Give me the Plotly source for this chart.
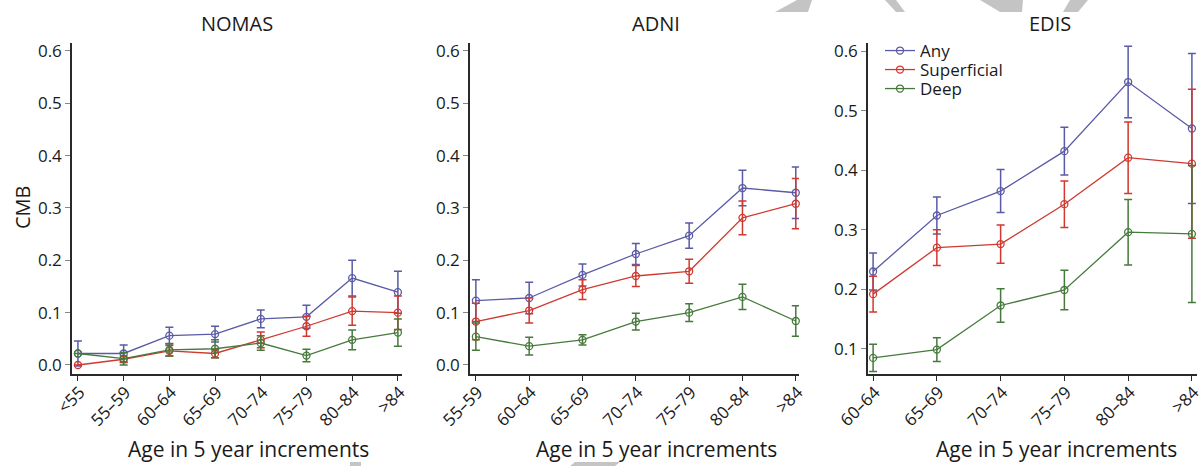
import plotly.graph_objects as go

W, H = 1203, 466

# ---------------- data ----------------
nomas_cats = ["<55", "55–59", "60–64", "65–69", "70–74", "75–79", "80–84", ">84"]
nomas_any = [0.022, 0.022, 0.056, 0.059, 0.088, 0.092, 0.166, 0.139]
nomas_any_err = [0.024, 0.016, 0.016, 0.015, 0.017, 0.022, 0.034, 0.040]
nomas_sup = [0.0, 0.011, 0.027, 0.022, 0.048, 0.074, 0.103, 0.100]
nomas_sup_err = [0.0, 0.006, 0.010, 0.008, 0.015, 0.019, 0.027, 0.032]
nomas_deep = [0.022, 0.012, 0.029, 0.031, 0.042, 0.018, 0.048, 0.062]
nomas_deep_err = [0.0, 0.012, 0.012, 0.017, 0.014, 0.012, 0.019, 0.026]

adni_cats = ["55–59", "60–64", "65–69", "70–74", "75–79", "80–84", ">84"]
adni_any = [0.123, 0.128, 0.172, 0.212, 0.247, 0.338, 0.329]
adni_any_err = [0.040, 0.030, 0.021, 0.020, 0.024, 0.034, 0.049]
adni_sup = [0.083, 0.104, 0.144, 0.170, 0.179, 0.281, 0.308]
adni_sup_err = [0.035, 0.024, 0.019, 0.020, 0.023, 0.032, 0.048]
adni_deep = [0.054, 0.036, 0.048, 0.083, 0.100, 0.130, 0.084]
adni_deep_err = [0.026, 0.017, 0.010, 0.016, 0.017, 0.024, 0.029]

edis_cats = ["60–64", "65–69", "70–74", "75–79", "80–84", ">84"]
edis_any = [0.230, 0.324, 0.365, 0.432, 0.548, 0.470]
edis_any_err = [0.031, 0.031, 0.036, 0.040, 0.060, 0.126]
edis_sup = [0.192, 0.270, 0.276, 0.343, 0.421, 0.411]
edis_sup_err = [0.030, 0.030, 0.032, 0.039, 0.060, 0.125]
edis_deep = [0.085, 0.099, 0.173, 0.199, 0.296, 0.293]
edis_deep_err = [0.023, 0.020, 0.028, 0.033, 0.055, 0.115]

series_names = ["Any", "Superficial", "Deep"]
colors = ["#5a5aa6", "#d0392f", "#467a3c"]

panels = [
    ("NOMAS", nomas_cats, [(nomas_any, nomas_any_err), (nomas_sup, nomas_sup_err), (nomas_deep, nomas_deep_err)]),
    ("ADNI", adni_cats, [(adni_any, adni_any_err), (adni_sup, adni_sup_err), (adni_deep, adni_deep_err)]),
    ("EDIS", edis_cats, [(edis_any, edis_any_err), (edis_sup, edis_sup_err), (edis_deep, edis_deep_err)]),
]

# ---------------- layout geometry (pixels) ----------------
x_dom_px = [(72, 402), (470, 799), (868, 1197)]
y_dom_px = (43, 374)
x_ranges = [[-0.13, 7.09], [-0.11, 6.06], [-0.08, 5.08]]
y_ranges = [[-0.0172, 0.615], [-0.0172, 0.615], [0.058, 0.6135]]
y_ticks = [[0, 0.1, 0.2, 0.3, 0.4, 0.5, 0.6], [0, 0.1, 0.2, 0.3, 0.4, 0.5, 0.6], [0.1, 0.2, 0.3, 0.4, 0.5, 0.6]]
title_cx = [237, 656, 1050]
xtitle_cx = [248, 656, 1056]
legend_rows_px = [51, 70, 89]

FONT = "Open Sans"
AX = "#2a2a2a"
TXT = "#1a1a1a"
legend_ids = ["legend", "legend2", "legend3"]

fig = go.Figure()
for p, (name, cats, series) in enumerate(panels):
    xa = "x" if p == 0 else f"x{p+1}"
    ya = "y" if p == 0 else f"y{p+1}"
    for s, (vals, errs) in enumerate(series):
        fig.add_trace(go.Scatter(
            x=cats, y=vals, xaxis=xa, yaxis=ya,
            mode="lines+markers",
            name=series_names[s],
            showlegend=(p == 2),
            legend=legend_ids[s],
            line=dict(color=colors[s], width=1.3),
            marker=dict(symbol="circle-open", size=7, color=colors[s], line=dict(width=1.3)),
            error_y=dict(type="data", array=errs, visible=True, color=colors[s], thickness=1.5, width=4),
            cliponaxis=False,
        ))

layout = dict(
    template="none",
    width=W, height=H, autosize=False,
    margin=dict(l=0, r=0, t=0, b=0, pad=0),
    paper_bgcolor="white", plot_bgcolor="white",
    font=dict(family=FONT, color=TXT, size=17),
)
for s, lid in enumerate(legend_ids):
    layout[lid] = dict(
        x=880 / W, y=1 - legend_rows_px[s] / H, xanchor="left", yanchor="middle",
        bgcolor="rgba(0,0,0,0)", font=dict(size=17, family=FONT, color=TXT),
        itemwidth=30, borderwidth=0,
    )

annotations = []
for p in range(3):
    xk = "xaxis" if p == 0 else f"xaxis{p+1}"
    yk = "yaxis" if p == 0 else f"yaxis{p+1}"
    ya = "y" if p == 0 else f"y{p+1}"
    xa = "x" if p == 0 else f"x{p+1}"
    layout[xk] = dict(
        domain=[x_dom_px[p][0] / W, x_dom_px[p][1] / W],
        anchor=ya, type="category", range=x_ranges[p], automargin=False,
        showline=True, linecolor=AX, linewidth=1.5,
        ticks="outside", ticklen=5, tickcolor=AX, tickwidth=1.2,
        tickangle=-45, showgrid=False, zeroline=False,
        ticklabelstandoff=-5, ticklabelshift=2,
        tickfont=dict(size=17, family=FONT, color=TXT),
        fixedrange=True,
    )
    layout[yk] = dict(
        domain=[1 - y_dom_px[1] / H, 1 - y_dom_px[0] / H],
        anchor=xa, range=y_ranges[p], automargin=False,
        tickvals=y_ticks[p], tickformat=".1f",
        showline=True, linecolor=AX, linewidth=1.5,
        ticks="outside", ticklen=5, tickcolor="#888", tickwidth=1.2,
        showgrid=False, zeroline=False,
        tickfont=dict(size=17, family=FONT, color=TXT),
        fixedrange=True,
    )
    annotations.append(dict(
        text=panels[p][0], x=title_cx[p] / W, y=1 - 23 / H, xref="paper", yref="paper",
        xanchor="center", yanchor="middle", showarrow=False,
        font=dict(size=20, family=FONT, color=TXT),
    ))
    annotations.append(dict(
        text="Age in 5 year increments", x=xtitle_cx[p] / W, y=1 - 449 / H, xref="paper", yref="paper",
        xanchor="center", yanchor="middle", showarrow=False,
        font=dict(size=21, family=FONT, color=TXT),
    ))
annotations.append(dict(
    text="CMB", x=22 / W, y=1 - 207 / H, xref="paper", yref="paper",
    xanchor="center", yanchor="middle", showarrow=False, textangle=-90,
    font=dict(size=20, family=FONT, color=TXT),
))
layout["annotations"] = annotations

# faint watermark fragments at the page edges
wm = "#c4c4c4"
def px_path(pts):
    return "M " + " L ".join(f"{x / W:.5f},{1 - y / H:.5f}" for x, y in pts) + " Z"
wm_polys = [
    [(775, 12), (797, 0), (812, 0), (808, 12)],
    [(885, 0), (896, 0), (905, 12), (896, 12)],
    [(980, 0), (1023, 0), (1022, 12), (1000, 12)],
    [(1070, 0), (1088, 0), (1078, 12), (1063, 12)],
    [(350, 466), (350, 462), (361, 462), (361, 466)],
    [(570, 466), (575, 462), (620, 462), (615, 466)],
]
layout["shapes"] = [dict(type="path", xref="paper", yref="paper", path=px_path(pts),
                         fillcolor=wm, line=dict(width=0), layer="below") for pts in wm_polys]

fig.update_layout(**layout)
fig.write_html(
    "out.html",
    config={"displayModeBar": False},
    post_script="document.body.style.margin='0';document.body.style.padding='0';document.body.style.overflow='hidden';",
)
